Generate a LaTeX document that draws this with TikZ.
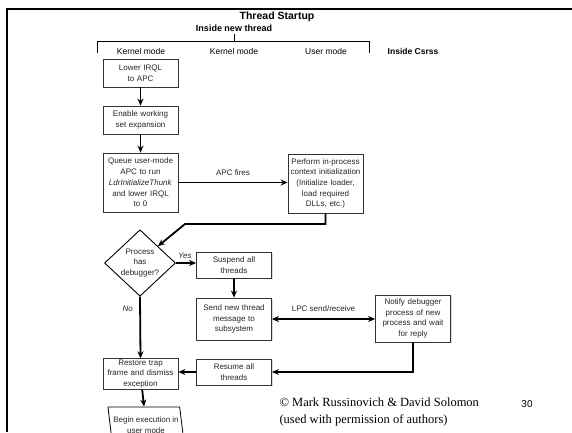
\documentclass[tikz,border=0pt]{standalone}
\usepackage{fontspec}
\setmainfont{Liberation Sans}
\newfontfamily\timesfont{Liberation Serif}
\usepackage{tikz}
\usetikzlibrary{shapes.geometric, arrows.meta, shadows}

\begin{document}
\begin{tikzpicture}[
    x=1pt, y=-1pt,
    box/.style={rectangle, draw=black!80, line width=0.8pt, fill=white, text=black!85, minimum width=75pt, text width=72pt, inner sep=1pt, align=center, font=\fontsize{8}{10.7}\selectfont, drop shadow={shadow xshift=1pt, shadow yshift=-1pt, fill=black!30}},
    decision/.style={diamond, draw=black, line width=0.9pt, fill=white, text=black!85, minimum width=71pt, minimum height=63pt, inner sep=0pt, align=center, font=\fontsize{8}{10.5}\selectfont},
    slant/.style={trapezium, trapezium left angle=103, trapezium right angle=77, trapezium stretches body, draw=black, line width=0.8pt, fill=white, text=black!85, minimum width=72pt, minimum height=36pt, inner sep=1pt, align=center, font=\fontsize{8}{11}\selectfont},
    arrow/.style={-{Stealth[length=7pt, width=6pt]}, line width=1.8pt},
    header/.style={font=\fontsize{8.5}{10}\selectfont},
    lbl/.style={font=\fontsize{8}{10}\selectfont, text=black!85}
]
    \useasboundingbox (0,0) rectangle (572,432);

    % Slide frame
    \draw[line width=2.5pt] (572,9) -- (7,9) -- (7,432);

    % Headings
    \node[font=\fontsize{10.5}{12}\bfseries] (title) at (277,16.5) {Thread Startup};
    \node[font=\fontsize{9}{11}\bfseries] (inside) at (234,28) {Inside new thread};
    \draw[line width=0.8pt] (97,53) -- (97,41) -- (369,41) -- (369,53);
    \draw[line width=0.8pt] (234,34) -- (234,41);
    \node[header] (kern1) at (141,51) {Kernel mode};
    \node[header] (kern2) at (234,51) {Kernel mode};
    \node[header] (user) at (326,51) {User mode};
    \node[font=\fontsize{8.5}{10}\bfseries] (csrss) at (413,51) {Inside Csrss};

    % Kernel mode steps
    \node[box, minimum height=28pt] (lower) at (140.5,73) {Lower IRQL\\to APC};
    \node[box, minimum height=28pt] (enable) at (140.5,120) {Enable working\\set expansion};
    \node[box, minimum height=59pt] (queue) at (140.5,182.5) {Queue user-mode\\APC to run\\\textit{LdrInitializeThunk}\\and lower IRQL\\to 0};
    \node[box, minimum height=59pt] (perform) at (325.5,183.5) {Perform in-process\\context initialization\\(Initialize loader,\\load required\\DLLs, etc.)};

    \draw[arrow] (lower) -- (enable);
    \draw[arrow] (enable) -- (queue);
    \draw[arrow] (queue.east) -- node[lbl, above=3pt] {APC fires} (perform.west |- queue.east);

    % Debugger check
    \node[decision] (dbg) at (140,263) {Process\\has\\debugger?};
    \coordinate (bend) at (185,224);
    \draw[arrow] (perform.south) |- (bend) -- (dbg.north east);

    \node[box, minimum height=26pt] (suspend) at (234,265) {Suspend all\\threads};
    \node[box, minimum height=42pt] (send) at (234,319) {Send new thread\\message to\\subsystem};
    \node[box, minimum height=47pt] (notify) at (413,318.5) {Notify debugger\\process of new\\process and wait\\for reply};
    \node[box, minimum height=26pt] (resume) at (234,372) {Resume all\\threads};
    \node[box, minimum height=30pt] (restore) at (140.5,374) {Restore trap\\frame and dismiss\\exception};
    \node[slant] (begin) at (146,425) {Begin execution in\\user mode};

    \draw[arrow] (dbg.east) -- node[lbl, above=0pt, pos=0.45] {\textit{Yes}} (suspend.west |- dbg.east);
    \draw[arrow] (suspend) -- (send);
    \draw[{Stealth[length=7pt, width=6pt]}-{Stealth[length=7pt, width=6pt]}, line width=1.8pt] (send.east) -- node[lbl, above=3pt] {LPC send/receive} (notify.west |- send.east);
    \draw[arrow] (notify.south) |- (resume.east);
    \draw[arrow] (resume.west) -- (resume.west -| restore.east);
    \draw[arrow] (dbg.south) -- node[lbl, pos=0.2, left=3pt] {\textit{No}} (restore.north);
    \draw[arrow] (restore) -- (begin);

    % Credits
    \node[anchor=west, align=left, font=\timesfont\fontsize{12.5}{17}\selectfont] (credit) at (276,412) {© Mark Russinovich \& David Solomon\\(used with permission of authors)};
    \node[font=\fontsize{10}{12}\selectfont] (page) at (527,404) {30};
\end{tikzpicture}
\end{document}
